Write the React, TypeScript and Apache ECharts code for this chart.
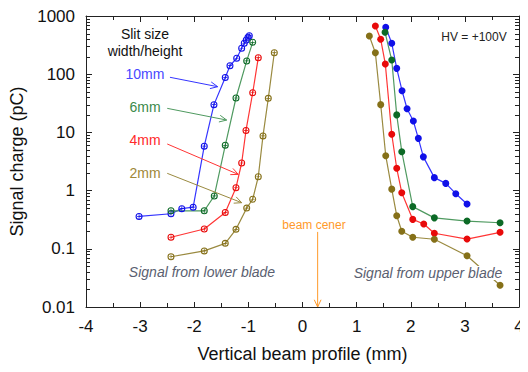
import React, { useEffect, useRef } from "react";
import * as echarts from "echarts";

const FONT = "'Liberation Sans', Arial, Helvetica, sans-serif";

// Lower blade (left group)
const lowX10 = [-3.02, -2.43, -2.23, -2.02, -1.815, -1.636, -1.427, -1.34, -1.216, -1.124, -1.076, -1.039, -1.007, -0.983];
const lowY10 = [0.36, 0.4, 0.49, 0.52, 5.8, 30, 88, 140, 188, 279, 340, 387, 431, 459];
const lowX6 = [-2.43, -1.815, -1.63, -1.427, -1.229, -1.031, -0.92];
const lowY6 = [0.45, 0.45, 0.81, 6.0, 39, 169, 353];
const lowX4 = [-2.43, -1.815, -1.427, -1.229, -1.124, -1.044, -0.92, -0.817];
const lowY4 = [0.158, 0.219, 0.42, 1.12, 2.98, 10.8, 48, 192];
const lowX2 = [-2.43, -1.815, -1.427, -1.229, -1.031, -0.92, -0.817, -0.73, -0.632, -0.521];
const lowY2 = [0.073, 0.092, 0.124, 0.216, 0.5, 0.71, 1.73, 8.7, 38.5, 234];

// Upper blade (right group)
const upX10 = [1.538, 1.649, 1.741, 1.839, 1.932, 2.048, 2.14, 2.233, 2.436, 2.647, 2.832, 3.04];
const upY10 = [640, 340, 126, 52, 25.5, 15.7, 7.9, 3.8, 1.67, 1.33, 0.885, 0.59];
const upX6 = [1.525, 1.649, 1.741, 1.834, 2.037, 2.436, 3.04, 3.65];
const upY6 = [525, 175, 20, 4.66, 0.53, 0.34, 0.3, 0.28];
const upX4 = [1.346, 1.445, 1.53, 1.649, 1.741, 1.834, 2.037, 2.24, 2.436, 3.04, 3.65];
const upY4 = [673, 398, 150, 9.3, 2.42, 0.92, 0.32, 0.267, 0.185, 0.147, 0.192];
const upX2 = [1.235, 1.346, 1.445, 1.538, 1.649, 1.741, 1.834, 2.037, 2.436, 3.04, 3.65];
const upY2 = [453, 234, 30, 3.98, 1.06, 0.37, 0.2, 0.158, 0.146, 0.076, 0.0236];

// log-axis minor tick values (2..9 in each decade)
const yMinor: number[] = [];
for (let d = -2; d < 3; d++) {
  for (let k = 2; k <= 9; k++) yMinor.push(Number((k * Math.pow(10, d)).toPrecision(3)));
}

const slitLabels = ["10mm", "6mm", "4mm", "2mm"];
const markerColors = ["#1010e8", "#0c6a26", "#e80a0a", "#857018"];
const lineColors = ["#3535ff", "#4f9a60", "#ff3535", "#9a8a40"];
const labelColors = ["#4848ff", "#3a8a4a", "#ff2a2a", "#a08838"];
// annotation arrows in data space: [x0, y0, x1, y1]
const arrowsData = [
  [-2.449, 88.5, -1.567, 61],
  [-2.499, 25.9, -1.401, 16.3],
  [-2.499, 6.32, -1.187, 1.9],
  [-2.499, 1.98, -1.124, 0.62],
];
const beamCenter = [0.28, 0.195, 0.28, 0.01];

const ringCross =
  "path://M10,0A10,10 0 1,1 10,20A10,10 0 1,1 10,0Z M10,3A7,7 0 1,0 10,17A7,7 0 1,0 10,3Z M4,9H16V11H4Z M9,4H11V16H9Z";

function zip(xs: number[], ys: number[]) {
  return xs.map((x, i) => [x, ys[i]]);
}

function arrow(p0: number[], p1: number[], color: string, width = 1) {
  const dx = p1[0] - p0[0];
  const dy = p1[1] - p0[1];
  const len = Math.hypot(dx, dy);
  const ux = dx / len;
  const uy = dy / len;
  const L = 8;
  const a = (25 * Math.PI) / 180;
  const rot = (ang: number) => [
    p1[0] - L * (ux * Math.cos(ang) - uy * Math.sin(ang)),
    p1[1] - L * (ux * Math.sin(ang) + uy * Math.cos(ang)),
  ];
  return [
    { type: "line", shape: { x1: p0[0], y1: p0[1], x2: p1[0], y2: p1[1] }, style: { stroke: color, lineWidth: width }, z: 10 },
    { type: "polyline", shape: { points: [rot(a), p1, rot(-a)] }, style: { stroke: color, lineWidth: width, fill: null }, z: 10 },
  ];
}

export default function App() {
  const ref = useRef<HTMLDivElement>(null);
  useEffect(() => {
    if (!ref.current) return;
    const chart = echarts.init(ref.current, null, { renderer: "svg" });
    const lowSets = [zip(lowX10, lowY10), zip(lowX6, lowY6), zip(lowX4, lowY4), zip(lowX2, lowY2)];
    const upSets = [zip(upX10, upY10), zip(upX6, upY6), zip(upX4, upY4), zip(upX2, upY2)];
    const series: any[] = [];
    lowSets.forEach((d, i) =>
      series.push({
        type: "line",
        name: slitLabels[i] + " lower",
        data: d,
        symbol: ringCross,
        symbolSize: 7,
        lineStyle: { color: lineColors[i], width: 1.2 },
        itemStyle: { color: markerColors[i], borderWidth: 0 },
        z: 3,
      })
    );
    upSets.forEach((d, i) =>
      series.push({
        type: "line",
        name: slitLabels[i] + " upper",
        data: d,
        symbol: "circle",
        symbolSize: 7,
        lineStyle: { color: lineColors[i], width: 1.2 },
        itemStyle: { color: markerColors[i], borderWidth: 0 },
        z: 3,
      })
    );

    const axisLine = { show: true, onZero: false, lineStyle: { color: "#222", width: 1 } };
    const fmt = (v: number) => String(Number(v.toPrecision(3)));

    chart.setOption({
      animation: false,
      backgroundColor: "#fff",
      grid: { left: 86, right: 9, top: 16, bottom: 65 },
      xAxis: [
        {
          type: "value",
          min: -4,
          max: 4,
          interval: 1,
          position: "bottom",
          axisLine,
          axisTick: { inside: true, length: 5, lineStyle: { color: "#222" } },
          minorTick: { show: true, splitNumber: 2, length: 4, lineStyle: { color: "#222" } },
          axisLabel: { fontSize: 17, color: "#111", margin: 11, fontFamily: FONT, formatter: (v: number) => String(v) },
          splitLine: { show: false },
          name: "Vertical beam profile (mm)",
          nameLocation: "middle",
          nameGap: 38,
          nameTextStyle: { fontSize: 18, color: "#111", fontFamily: FONT },
        },
        {
          type: "value",
          min: -4,
          max: 4,
          interval: 1,
          position: "top",
          axisLine,
          axisTick: { inside: true, length: 6, lineStyle: { color: "#222" } },
          minorTick: { show: true, splitNumber: 2, length: 4, lineStyle: { color: "#222" } },
          axisLabel: { show: false },
          splitLine: { show: false },
        },
      ],
      yAxis: [
        {
          type: "log",
          logBase: 10,
          min: 0.01,
          max: 1000,
          position: "left",
          axisLine,
          axisTick: { inside: true, length: 6, lineStyle: { color: "#222" } },
          axisLabel: { fontSize: 17, color: "#111", margin: 11, fontFamily: FONT, formatter: fmt },
          splitLine: { show: false },
          name: "Signal charge (pC)",
          nameLocation: "middle",
          nameGap: 51,
          nameTextStyle: { fontSize: 18, color: "#111", fontFamily: FONT },
        },
        {
          type: "log",
          logBase: 10,
          min: 0.01,
          max: 1000,
          position: "right",
          axisLine,
          axisTick: { inside: true, length: 6, lineStyle: { color: "#222" } },
          axisLabel: { show: false },
          splitLine: { show: false },
        },
      ],
      series,
    });

    const toPx = (x: number, y: number) => chart.convertToPixel({ xAxisIndex: 0, yAxisIndex: 0 }, [x, y]) as number[];
    const graphics: any[] = [];
    // minor ticks of the log axis (left and right frame), placed through the axis scale
    yMinor.forEach((v) => {
      const l = toPx(-4, v);
      const r = toPx(4, v);
      const y = Math.round(l[1]) + 0.5;
      const xl = Math.round(l[0]);
      const xr = Math.round(r[0]);
      graphics.push({ type: "line", shape: { x1: xl, y1: y, x2: xl + 4, y2: y }, style: { stroke: "#222", lineWidth: 1 }, z: 5 });
      graphics.push({ type: "line", shape: { x1: xr, y1: y, x2: xr - 4, y2: y }, style: { stroke: "#222", lineWidth: 1 }, z: 5 });
    });
    arrowsData.forEach((a, i) => {
      graphics.push(...arrow(toPx(a[0], a[1]), toPx(a[2], a[3]), lineColors[i], 1));
    });
    graphics.push(...arrow(toPx(beamCenter[0], beamCenter[1]), toPx(beamCenter[2], beamCenter[3]), "#ff9a2a", 1));

    const txt = (text: string, x: number, y: number, size: number, color: string, extra: any = {}) => ({
      type: "text",
      x,
      y,
      z: 20,
      style: { text, fontSize: size, fill: color, fontFamily: FONT, align: "center", verticalAlign: "middle", ...extra },
    });
    graphics.push(txt("Slit size", 145, 34, 14, "#111"));
    graphics.push(txt("width/height", 145, 51, 14, "#111"));
    const labelYs = [74, 107, 140, 173];
    slitLabels.forEach((s, i) => graphics.push(txt(s, 145, labelYs[i], 14, labelColors[i])));
    graphics.push(txt("HV = +100V", 474, 37, 12, "#222"));
    graphics.push(txt("beam cener", 314, 225, 12, "#ff9a2a"));
    graphics.push(txt("Signal from lower blade", 202, 272, 14, "#5a6070", { fontStyle: "italic" }));
    graphics.push(
      txt("Signal from upper blade", 428, 273, 14, "#5a6070", { fontStyle: "italic", backgroundColor: "#fff", padding: [0, 1] })
    );
    chart.setOption({ graphic: graphics });

    return () => chart.dispose();
  }, []);
  return <div ref={ref} style={{ width: 528, height: 372, margin: -8 }} />;
}
